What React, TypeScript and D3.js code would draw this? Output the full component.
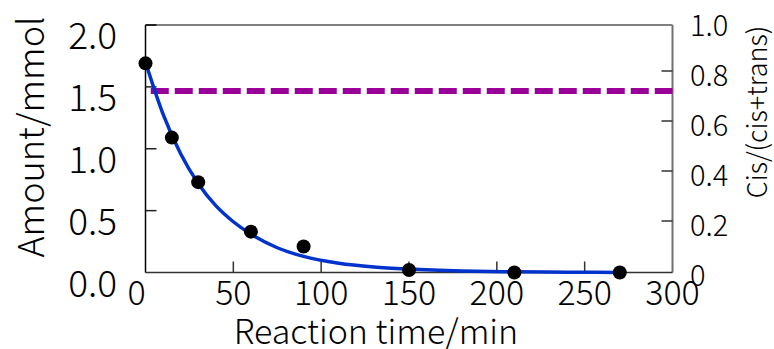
import React from 'react';
import { scaleLinear, line, curveMonotoneX } from 'd3';

// measured amount (mmol) vs reaction time (min)
const sampleTimes = [0, 15, 30, 60, 90, 150, 210, 270];
const sampleAmounts = [1.69, 1.09, 0.73, 0.33, 0.21, 0.02, 0, 0];

// fitted decay curve
const fitTimes = [0, 10, 20, 30, 40, 50, 60, 75, 90, 110, 130, 150, 180, 210, 240, 270];
const fitAmounts = [1.7, 1.28, 0.96, 0.72, 0.54, 0.41, 0.31, 0.2, 0.13, 0.075, 0.045, 0.028, 0.013, 0.006, 0.003, 0.001];

// cis/(cis+trans) ratio
const ratioTimes = [3, 300];
const ratioValues = [0.72, 0.72];

const xTicks = [0, 50, 100, 150, 200, 250, 300];
const leftTicks = [0, 0.5, 1.0, 1.5, 2.0];
const rightTicks = [0, 0.2, 0.4, 0.6, 0.8, 1.0];

const FONT = '"Noto Sans CJK JP", "Noto Sans", sans-serif';

const App = () => {
  const width = 774;
  const height = 349;

  const x = scaleLinear().domain([0, 300]).range([145.5, 672.5]);
  const yLeft = scaleLinear().domain([0, 2]).range([272.5, 25]);
  const yRight = scaleLinear().domain([0, 1]).range([271, 21]);

  const fitLine = line<number>()
    .x((d, i) => x(fitTimes[i]))
    .y(d => yLeft(d))
    .curve(curveMonotoneX);

  const ratioLine = line<number>()
    .x((d, i) => x(ratioTimes[i]))
    .y(d => yRight(d));

  const left = x.range()[0];
  const right = x.range()[1];
  const top = yLeft.range()[1];
  const bottom = yLeft.range()[0];

  return (
    <svg
      width={width}
      height={height}
      style={{ position: 'absolute', left: 0, top: 0, background: '#fff' }}
      fontFamily={FONT}
      fontWeight={300}
    >
      {/* frame */}
      <line x1={left} x2={right} y1={top} y2={top} stroke="#808080" strokeWidth={2} />
      <line x1={right} x2={right} y1={top} y2={bottom} stroke="#707070" strokeWidth={2} />
      <line x1={left} x2={right} y1={bottom} y2={bottom} stroke="#333" strokeWidth={1.5} />
      <line x1={left} x2={left} y1={top} y2={bottom} stroke="#000" strokeWidth={1.5} />
      <line x1={left} x2={left + 11} y1={top} y2={top} stroke="#222" strokeWidth={2} />

      {/* left axis */}
      {leftTicks.map(t => (
        <g key={'l' + t}>
          {t > 0 && t < 2 && (
            <line x1={left} x2={left + 11} y1={yLeft(t)} y2={yLeft(t)} stroke="#222" strokeWidth={1.5} />
          )}
          <text x={117} y={yLeft(t) + 24} textAnchor="end" fontSize={37} fill="#000">
            {t.toFixed(1)}
          </text>
        </g>
      ))}

      {/* right axis */}
      {rightTicks.map(t => (
        <g key={'r' + t}>
          {t > 0 && t < 1 && (
            <line x1={right - 11} x2={right} y1={yRight(t)} y2={yRight(t)} stroke="#333" strokeWidth={1.5} />
          )}
          <text x={690} y={yRight(t) + 15} textAnchor="start" fontSize={29} fill="#000">
            {t === 0 ? '0' : t.toFixed(1)}
          </text>
        </g>
      ))}

      {/* bottom axis */}
      {xTicks.map(t => (
        <g key={'x' + t}>
          {t > 0 && t < 300 && (
            <line x1={x(t)} x2={x(t)} y1={bottom - 11} y2={bottom} stroke="#333" strokeWidth={1.5} />
          )}
          <text x={x(t) + (t === 0 ? -9 : 0)} y={305} textAnchor="middle" fontSize={34} fill="#000">
            {t}
          </text>
        </g>
      ))}

      {/* axis titles */}
      <text x={376} y={344} textAnchor="middle" fontSize={34} fill="#000">
        Reaction time/min
      </text>
      <text
        transform="translate(44,137) rotate(-90)"
        textAnchor="middle"
        fontSize={36}
        fill="#000"
      >
        Amount/mmol
      </text>
      <text
        transform="translate(767,112) rotate(-90)"
        textAnchor="middle"
        fontSize={27}
        fill="#000"
      >
        Cis/(cis+trans)
      </text>

      {/* series */}
      <path d={ratioLine(ratioValues) || ''} fill="none" stroke="#990099" strokeWidth={6} strokeDasharray="18 6" />
      <path d={fitLine(fitAmounts) || ''} fill="none" stroke="#0033cc" strokeWidth={3.5} />
      {sampleTimes.map((t, i) => (
        <circle key={'p' + t} cx={x(t)} cy={yLeft(sampleAmounts[i])} r={7} fill="#000" />
      ))}
    </svg>
  );
};

export default App;
